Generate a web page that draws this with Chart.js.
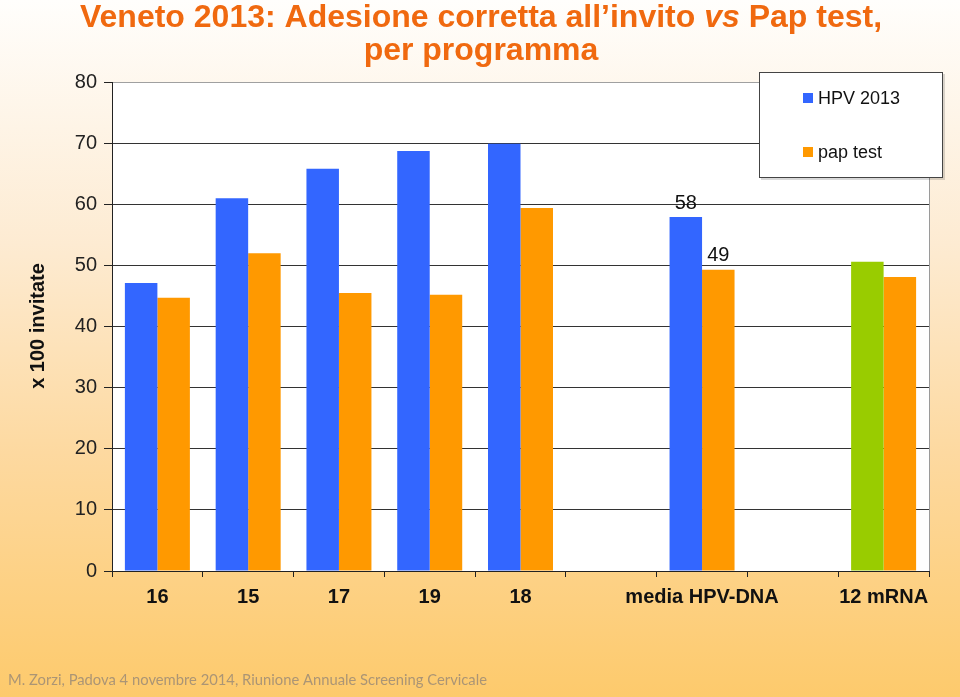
<!DOCTYPE html>
<html>
<head>
<meta charset="utf-8">
<script src="https://cdn.jsdelivr.net/npm/chart.js@4.4.1/dist/chart.umd.min.js"></script>
<style>
  html, body { margin: 0; padding: 0; }
  body {
    width: 960px; height: 697px; overflow: hidden;
    background: linear-gradient(to bottom, #fffefc 0%, #fdebd2 35%, #fdd9a0 65%, #fdca6c 100%);
  }
  canvas { display: block; }
</style>
</head>
<body>
<canvas id="chart" width="960" height="697"></canvas>
<script>
// data (x 100 invitate)
const categories = ['16', '15', '17', '19', '18', '', 'media HPV-DNA', '', '12 mRNA'];
const hpv2013 = [47.1, 61.0, 65.8, 68.7, 69.9, null, 57.9, null, 50.6];
const papTest = [44.7, 52.0, 45.5, 45.2, 59.4, null, 49.3, null, 48.1];
const seriesNames = ['HPV 2013', 'pap test'];
const yTicks = [0, 10, 20, 30, 40, 50, 60, 70, 80];
const labelledCategory = 'media HPV-DNA'; // only these bars carry a value label

const BLUE = '#3366ff', ORANGE = '#ff9900', GREEN = '#99cc00';
const FONT = 'Arial, "Liberation Sans", sans-serif';

// mRNA bar is drawn green in the original
const hpvColors = categories.map(c => c === '12 mRNA' ? GREEN : BLUE);

const decor = {
  id: 'decor',
  beforeDraw(chart) {
    const { ctx, chartArea: a } = chart;
    ctx.save();
    ctx.fillStyle = '#ffffff';
    ctx.fillRect(a.left, a.top, a.right - a.left, a.bottom - a.top);
    ctx.restore();
  },
  afterDatasetsDraw(chart) {
    const { ctx } = chart;
    const idx = categories.indexOf(labelledCategory);
    ctx.save();
    ctx.font = '20px ' + FONT;
    ctx.fillStyle = '#111';
    ctx.textAlign = 'center';
    ctx.textBaseline = 'bottom';
    chart.data.datasets.forEach((ds, i) => {
      const bar = chart.getDatasetMeta(i).data[idx];
      if (bar && ds.data[idx] != null) {
        ctx.fillText(String(Math.round(ds.data[idx])), bar.x, bar.y - 4);
      }
    });
    ctx.restore();
  },
  afterDraw(chart) {
    const { ctx, chartArea: a } = chart;
    ctx.save();

    // right border of the plot
    ctx.strokeStyle = '#9a9a9a';
    ctx.lineWidth = 1;
    ctx.beginPath();
    ctx.moveTo(a.right + 0.5, a.top);
    ctx.lineTo(a.right + 0.5, a.bottom);
    ctx.stroke();

    // title, with italic "vs"
    const parts = [
      ['Veneto 2013: Adesione corretta all\u2019invito ', 'bold'],
      ['vs', 'italic bold'],
      [' Pap test,', 'bold']
    ];
    ctx.fillStyle = '#f0690f';
    ctx.textBaseline = 'alphabetic';
    ctx.textAlign = 'left';
    let total = 0;
    parts.forEach(p => { ctx.font = p[1] + ' 32px ' + FONT; total += ctx.measureText(p[0]).width; });
    let x = 481 - total / 2;
    parts.forEach(p => {
      ctx.font = p[1] + ' 32px ' + FONT;
      ctx.fillText(p[0], x, 27);
      x += ctx.measureText(p[0]).width;
    });
    ctx.font = 'bold 32px ' + FONT;
    ctx.textAlign = 'center';
    ctx.fillText('per programma', 481, 60);

    // y axis title
    ctx.save();
    ctx.translate(38, 326);
    ctx.rotate(-Math.PI / 2);
    ctx.font = 'bold 20px ' + FONT;
    ctx.fillStyle = '#111';
    ctx.textBaseline = 'middle';
    ctx.fillText('x 100 invitate', 0, 0);
    ctx.restore();

    // legend box
    ctx.fillStyle = '#ffffff';
    ctx.shadowColor = 'rgba(0,0,0,0.15)';
    ctx.shadowOffsetX = 2;
    ctx.shadowOffsetY = 2;
    ctx.fillRect(759, 72, 184, 106);
    ctx.shadowColor = 'transparent';
    ctx.strokeStyle = '#444';
    ctx.strokeRect(759.5, 72.5, 183, 105);
    const swatches = [BLUE, ORANGE];
    const rows = [98, 152];
    ctx.font = '18px ' + FONT;
    ctx.textAlign = 'left';
    ctx.textBaseline = 'middle';
    seriesNames.forEach((name, i) => {
      ctx.fillStyle = swatches[i];
      ctx.fillRect(803, rows[i] - 5, 10, 10);
      ctx.fillStyle = '#111';
      ctx.fillText(name, 818, rows[i] + 1);
    });

    // footer
    const foot = 'M. Zorzi, Padova 4 novembre 2014, Riunione Annuale Screening Cervicale';
    ctx.font = '15px Lato, "Open Sans", sans-serif';
    const w = ctx.measureText(foot).width;
    ctx.save();
    ctx.translate(8, 680);
    ctx.scale(479 / w, 1);
    ctx.fillStyle = '#ab9575';
    ctx.fillText(foot, 0, 0);
    ctx.restore();

    ctx.restore();
  }
};

new Chart(document.getElementById('chart'), {
  type: 'bar',
  data: {
    labels: categories,
    datasets: [
      { label: seriesNames[0], data: hpv2013, backgroundColor: hpvColors, borderWidth: 0 },
      { label: seriesNames[1], data: papTest, backgroundColor: ORANGE, borderWidth: 0 }
    ]
  },
  options: {
    responsive: false,
    animation: false,
    layout: { padding: { top: 82, right: 31, bottom: 76, left: 0 } },
    datasets: { bar: { categoryPercentage: 0.716, barPercentage: 1 } },
    plugins: { legend: { display: false }, tooltip: { enabled: false } },
    scales: {
      x: {
        grid: { drawOnChartArea: false, tickLength: 6, color: '#222', offset: true },
        border: { color: '#222', width: 1 },
        ticks: { color: '#111', font: { family: FONT, size: 20, weight: 'bold' }, padding: 8, maxRotation: 0, autoSkip: false },
        afterFit(scale) { scale.height = 50; }
      },
      y: {
        min: yTicks[0],
        max: yTicks[yTicks.length - 1],
        afterBuildTicks(scale) { scale.ticks = yTicks.map(v => ({ value: v })); },
        grid: {
          color: ctx => ctx.tick && ctx.tick.value === 80 ? '#a0a0a0' : '#333',
          tickColor: '#222',
          tickLength: 8
        },
        border: { color: '#222', width: 1 },
        ticks: { color: '#222', font: { family: FONT, size: 20 }, padding: 7 },
        afterFit(scale) { scale.width = 112; }
      }
    }
  },
  plugins: [decor]
});
</script>
</body>
</html>
